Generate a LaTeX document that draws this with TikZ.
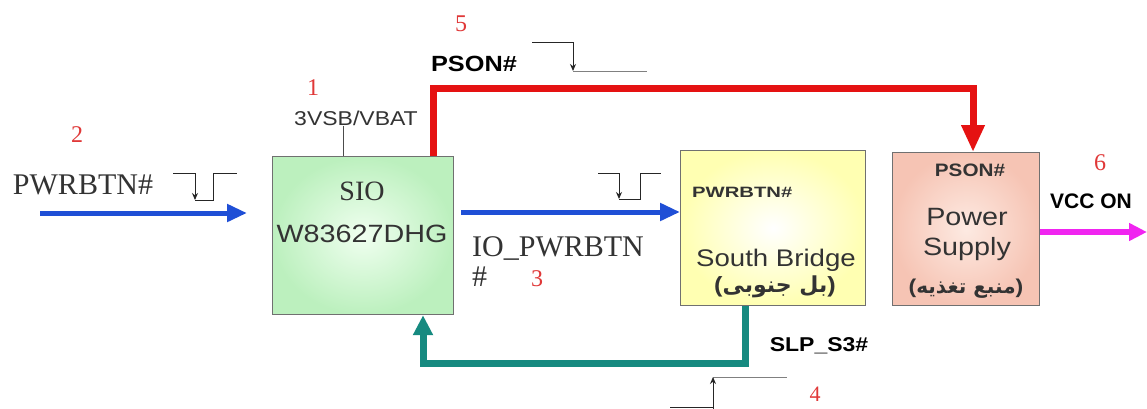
\documentclass[tikz,border=0pt]{standalone}
\usepackage{fontspec}
\setmainfont{Liberation Serif}
\newfontfamily\arialx[FakeStretch=1.15]{Liberation Sans}
\newfontfamily\arialw[FakeStretch=1.35]{Liberation Sans}
\newfontfamily\ariald{Liberation Sans}
\newfontfamily\farsi[Script=Arabic]{DejaVu Sans}
\TeXXeTstate=1
\usetikzlibrary{arrows.meta}
\definecolor{txt}{HTML}{333333}
\definecolor{numred}{HTML}{E03838}
\definecolor{sigblue}{HTML}{1F4FD6}
\definecolor{sigred}{HTML}{E51212}
\definecolor{sigteal}{HTML}{168A80}
\definecolor{sigmag}{HTML}{F024F0}
\definecolor{boxline}{HTML}{707070}
\begin{document}
\begin{tikzpicture}[x=1pt,y=-1pt,
  box/.style={draw=boxline,line width=1.2pt,anchor=north west,inner sep=0pt},
  num/.style={text=numred,font=\fontsize{24}{24}\selectfont,inner sep=0pt},
  serif/.style={text=txt,inner sep=0pt,font=\fontsize{30}{30}\selectfont},
  sans/.style={text=txt,inner sep=0pt},
  wave/.style={draw=black!85,line width=1pt},
  wavetip/.style={wave,-{Stealth[length=7pt,width=6pt]}},
  bluesig/.style={draw=sigblue,line width=5pt,-{Triangle[length=20pt,width=17pt]}},
  redsig/.style={draw=sigred,line width=7pt,-{Triangle[length=27pt,width=22pt]}},
  tealsig/.style={draw=sigteal,line width=7pt,-{Triangle[length=20pt,width=19pt]}},
  magsig/.style={draw=sigmag,line width=6pt,-{Triangle[length=18pt,width=17pt]}}]
\useasboundingbox (0,0) rectangle (1147,408);
\fill[white] (0,0) rectangle (1147,408);

% boxes
\node[box,minimum width=181pt,minimum height=158pt,inner color=green!6,outer color={rgb,255:red,188;green,240;blue,190}] (sio) at (272,156) {};
\node[box,minimum width=185pt,minimum height=155pt,inner color=white,outer color={rgb,255:red,255;green,255;blue,178}] (sb) at (680,150) {};
\node[box,minimum width=147pt,minimum height=153pt,inner color={rgb,255:red,253;green,234;blue,226},outer color={rgb,255:red,246;green,196;blue,180}] (ps) at (892,152) {};

% box texts
\node[serif,font=\fontsize{28}{28}\selectfont] (siot) at (362,191) {SIO};
\node[sans,font=\arialx\fontsize{25}{25}\selectfont] (siop) at (362,234) {W83627DHG};
\node[sans,anchor=west,font=\arialw\bfseries\fontsize{15}{15}\selectfont] (sbpin) at (692,192) {PWRBTN\#};
\node[sans,font=\arialx\fontsize{24}{24}\selectfont] (sbt) at (776,260) {South Bridge};
\node[sans,font=\arialx\bfseries\fontsize{22}{22}\selectfont] (sbfa) at (775,287) {({\farsi\bfseries\beginR بل جنوبی\endR})};
\node[sans,font=\arialx\bfseries\fontsize{18}{18}\selectfont] (pspin) at (970,170) {PSON\#};
\node[sans,font=\arialx\fontsize{25}{25}\selectfont] (pst1) at (967,217) {Power};
\node[sans,font=\arialx\fontsize{25}{25}\selectfont] (pst2) at (967,249) {Supply};
\node[sans,font=\arialx\bfseries\fontsize{20}{20}\selectfont] (psfa) at (966,289) {({\farsi\bfseries\beginR منبع تغذیه\endR})};

% labels
\node[num] (n1) at (313,88) {1};
\node[num] (n2) at (77,135) {2};
\node[num] (n3) at (537,279) {3};
\node[num,font=\fontsize{22}{22}\selectfont] (n4) at (815,394) {4};
\node[num] (n5) at (461,24) {5};
\node[num] (n6) at (1100,163) {6};
\node[serif] (pwrl) at (83,185) {PWRBTN\#};
\node[serif,anchor=west] (iol) at (472,248) {IO\_PWRBTN};
\node[serif,anchor=west] (iol2) at (472,277) {\#};
\node[sans,font=\arialx\fontsize{20}{20}\selectfont] (vbat) at (356,118) {3VSB/VBAT};
\node[sans,text=black,font=\arialx\bfseries\fontsize{22}{22}\selectfont] (psonl) at (474,64) {PSON\#};
\node[sans,text=black,font=\arialx\bfseries\fontsize{20}{20}\selectfont] (slpl) at (819,346) {SLP\_S3\#};
\node[sans,text=black,anchor=west,font=\ariald\bfseries\fontsize{21}{21}\selectfont] (vccl) at (1050,201) {VCC ON};

% 3VSB line
\draw[draw=black!70,line width=1pt] (sio.north west) ++(71,0) coordinate (vbatpin) -- (vbat.south -| vbatpin);

% waveforms
\draw[wave] (173,173) -- (195,173);
\draw[wavetip] (195,173) -- (195,200);
\draw[wave] (195,200) -- (213,200) -- (213,173) -- (237,173);

\draw[wave] (598,173) -- (619,173);
\draw[wavetip] (619,173) -- (619,199);
\draw[wave] (619,199) -- (640,199) -- (640,173) -- (661,173);

\draw[wave] (532,42) -- (573,42);
\draw[wavetip] (573,42) -- (573,71);
\draw[draw=black!50,line width=1pt] (573,71) -- (647,71);

\draw[draw=black!50,line width=1pt] (713,377) -- (787,377);
\draw[wavetip] (713,410) -- (713,377);
\draw[wave] (670,407) -- (713,407);

% signals
\coordinate (pwrin) at (40,213);
\draw[bluesig] (pwrin) -- ([xshift=-25pt]sio.west |- pwrin);
\coordinate (iorow) at (460,212);
\draw[bluesig] ([xshift=7pt]sio.east |- iorow) -- (sb.west |- iorow);
\coordinate (redtop) at (700,88);
\draw[redsig] ([xshift=161pt]sio.north west) |- (redtop) -| ([xshift=81pt]ps.north west);
\coordinate (tealbot) at (600,363);
\draw[tealsig] ([xshift=65pt]sb.south west) |- (tealbot) -| ([xshift=151pt]sio.south west);
\coordinate (vccend) at (1147,232);
\draw[magsig] (ps.east |- vccend) -- (vccend);
\end{tikzpicture}
\end{document}
